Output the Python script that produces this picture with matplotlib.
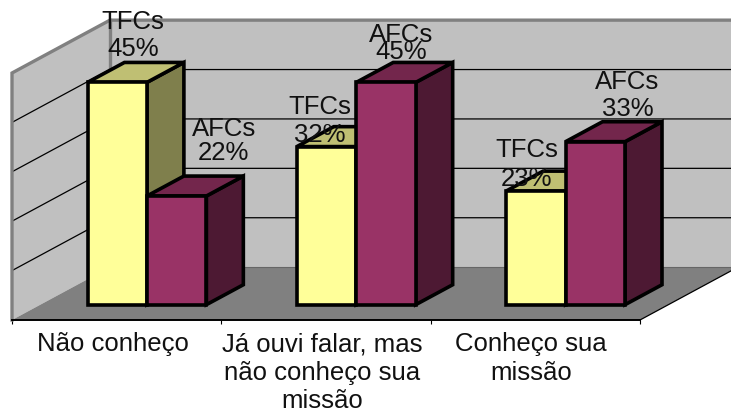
from matplotlib import pyplot as plt
from matplotlib.patches import Polygon

import matplotlib
matplotlib.use('Agg') # don't start interactive plots

categories = ['Não conheço', 'Já ouvi falar, mas\nnão conheço sua\nmissão', 'Conheço sua\nmissão']
seriesNames = ['TFCs', 'AFCs']
tfcValues = [45, 32, 23]
afcValues = [22, 45, 33]
gridValues = [10, 20, 30, 40]
valueMax = 50

# oblique projection, depth d goes from 0 (front) to 1 (back wall)
depthX = 0.468
depthY = 10.7

barLeft = 0.225
barWidth = 0.284
barDepth0 = 0.29
barDepth1 = 0.667

# label lines, offset in pixels from the front top centre of the bar
tfcOffsets = [((16, 60), (16, 33)), ((-7, 40), (-7, 12)), ((-9, 41), (-9, 12))]
afcOffsets = [((47, 67), (47, 43)), ((15, 47), (15, 30)), ((32, 60), (32, 33))]


def project(x, v, d):
    return (x + d * depthX, v + d * depthY)


def face(ax, points, color, edge='black', lw=2.6, zorder=3):
    poly = Polygon([project(*p) for p in points], closed=True, facecolor=color,
                   edgecolor=edge, linewidth=lw, joinstyle='miter', zorder=zorder)
    ax.add_patch(poly)


def draw_bar(ax, x, value, colors):
    front, top, side = colors
    x1 = x + barWidth
    d0, d1 = barDepth0, barDepth1
    face(ax, [(x1, 0, d0), (x1, 0, d1), (x1, value, d1), (x1, value, d0)], side)
    face(ax, [(x, value, d0), (x1, value, d0), (x1, value, d1), (x, value, d1)], top)
    face(ax, [(x, 0, d0), (x1, 0, d0), (x1, value, d0), (x, value, d0)], front)


def draw_label(ax, x, value, name, offsets):
    anchor = project(x + barWidth / 2, value, barDepth0)
    for text, off in zip([name, f'{value}%'], offsets):
        ax.annotate(text, anchor, xytext=off, textcoords='offset pixels',
                    ha='center', va='center', fontsize=18.5, color='#111111', zorder=6)


def main():
    plt.rcParams['font.family'] = ['Liberation Sans', 'DejaVu Sans']

    fig = plt.figure(figsize=(7.31, 4.12), dpi=100)
    ax = fig.add_axes([0, 0, 1, 1])
    pxX = 209.33
    pxY = 4.94
    ax.set_xlim(-12 / pxX, (731 - 12) / pxX)
    ax.set_ylim(-(412 - 320) / pxY, 320 / pxY)
    ax.patch.set_visible(False)

    # walls and floor
    right = 3 + depthX
    wallGray = '#C0C0C0'
    ax.add_patch(Polygon([project(0, 0, 1), project(3, 0, 1), project(3, valueMax, 1), project(0, valueMax, 1)],
                         facecolor=wallGray, edgecolor='none', zorder=1))
    ax.add_patch(Polygon([project(0, 0, 0), project(0, 0, 1), project(0, valueMax, 1), project(0, valueMax, 0)],
                         facecolor=wallGray, edgecolor='none', zorder=1))
    ax.add_patch(Polygon([project(0, 0, 0), project(3, 0, 0), project(3, 0, 1), project(0, 0, 1)],
                         facecolor='#808080', edgecolor='none', zorder=1))

    for v in gridValues:
        xs, ys = zip(project(0, v, 0), project(0, v, 1), (right, v + depthY))
        ax.plot(xs, ys, color='black', lw=0.9, zorder=2)
    # back edge of the floor
    ax.plot([depthX, right], [depthY, depthY], color='#666666', lw=0.8, zorder=2)

    # wall outline
    xs, ys = zip(project(0, 0, 0), project(0, valueMax, 0), project(0, valueMax, 1), (right, valueMax + depthY))
    ax.plot(xs, ys, color='#808080', lw=2.4, solid_joinstyle='miter', zorder=2)
    xs, ys = zip(project(0, valueMax, 1), project(0, 0, 1))
    ax.plot(xs, ys, color='#808080', lw=2.4, zorder=2)
    # right edge of the floor
    xs, ys = zip(project(3, 0, 0), project(3, 0, 1))
    ax.plot(xs, ys, color='black', lw=0.9, zorder=2)

    yellow = ('#FFFF99', '#BFBF73', '#7F7F4C')
    purple = ('#993366', '#73264C', '#4D1933')
    for i in range(len(categories)):
        draw_bar(ax, i + barLeft, tfcValues[i], yellow)
        draw_bar(ax, i + barLeft + barWidth, afcValues[i], purple)
    for i in range(len(categories)):
        draw_label(ax, i + barLeft, tfcValues[i], seriesNames[0], tfcOffsets[i])
        draw_label(ax, i + barLeft + barWidth, afcValues[i], seriesNames[1], afcOffsets[i])

    # category axis
    for name in ['top', 'left', 'right']:
        ax.spines[name].set_visible(False)
    ax.spines['bottom'].set_position(('data', 0))
    ax.spines['bottom'].set_bounds(0, 3)
    ax.spines['bottom'].set_linewidth(1.4)
    ax.spines['bottom'].set_zorder(4)
    ax.set_yticks([])
    ax.set_xticks(range(len(categories) + 1))
    ax.set_xticklabels([])
    ax.tick_params(axis='x', which='major', length=3, width=0.8)
    ax.set_xticks([i + 0.48 for i in range(len(categories))], minor=True)
    ax.set_xticklabels(categories, minor=True, fontsize=18.5, linespacing=1.23, color='#111111')
    ax.tick_params(axis='x', which='minor', length=0, pad=9)

    fig.savefig('out.png', dpi=100)


if __name__ == '__main__':
    main()
